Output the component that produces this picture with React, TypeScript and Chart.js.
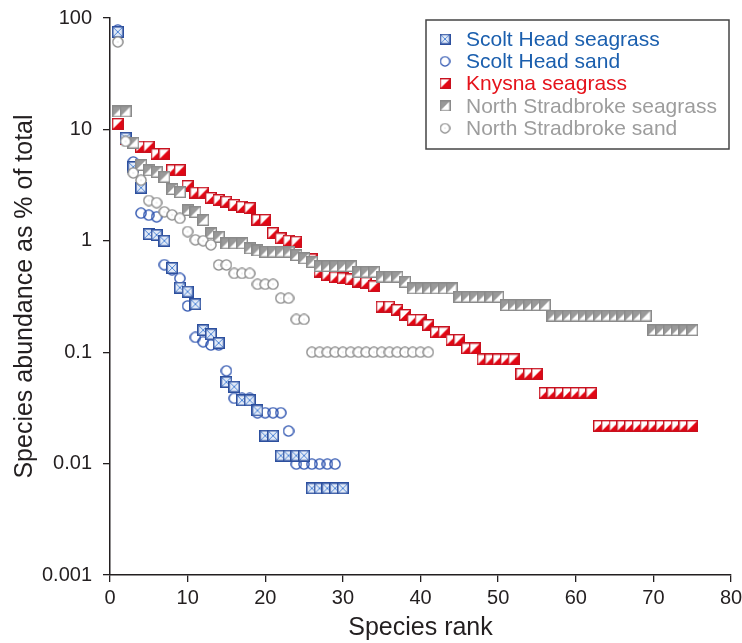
import React, { useEffect, useRef } from 'react';
import { Chart, registerables } from 'chart.js';

Chart.register(...registerables);

// Values are % of total; species rank = position in list (1, 2, 3, ...)
const scoltHeadSeagrass = [
  75, 8.4, 4.6, 3.0, 1.15, 1.13, 1.0, 0.57, 0.38, 0.35,
  0.27, 0.158, 0.145, 0.121, 0.054, 0.049, 0.037, 0.037, 0.030, 0.0178,
  0.0178, 0.0118, 0.0118, 0.0118, 0.0118, 0.006, 0.006, 0.006, 0.006, 0.006,
];
const scoltHeadSand = [
  78, 8.2, 5.1, 1.77, 1.7, 1.64, 0.61, 0.55, 0.46, 0.26,
  0.136, 0.124, 0.116, 0.116, 0.068, 0.0386, 0.0386, 0.0386, 0.0286, 0.0286,
  0.0286, 0.0286, 0.0196, 0.0099, 0.0099, 0.0099, 0.0099, 0.0099, 0.0099,
];
const knysnaSeagrass = [
  11.2, 8.2, 7.5, 7.0, 7.0, 6.0, 6.0, 4.3, 4.3, 3.1,
  2.7, 2.7, 2.42, 2.32, 2.24, 2.1, 2.02, 1.96, 1.54, 1.54,
  1.17, 1.05, 1.0, 0.98, 0.7, 0.68, 0.53, 0.49, 0.47, 0.46,
  0.45, 0.43, 0.42, 0.39, 0.256, 0.256, 0.239, 0.216, 0.195, 0.195,
  0.175, 0.151, 0.151, 0.129, 0.129, 0.108, 0.108, 0.086, 0.086, 0.086,
  0.086, 0.086, 0.064, 0.064, 0.064, 0.043, 0.043, 0.043, 0.043, 0.043,
  0.043, 0.043, 0.0218, 0.0218, 0.0218, 0.0218, 0.0218, 0.0218, 0.0218, 0.0218,
  0.0218, 0.0218, 0.0218, 0.0218, 0.0218,
];
const northStradbrokeSeagrass = [
  14.5, 14.5, 7.6, 4.8, 4.3, 4.17, 3.76, 2.92, 2.74, 1.89,
  1.82, 1.54, 1.17, 1.09, 0.95, 0.95, 0.95, 0.857, 0.82, 0.80,
  0.80, 0.80, 0.80, 0.746, 0.697, 0.649, 0.594, 0.594, 0.594, 0.594,
  0.594, 0.528, 0.528, 0.528, 0.478, 0.478, 0.478, 0.43, 0.375, 0.375,
  0.375, 0.375, 0.375, 0.375, 0.315, 0.315, 0.315, 0.315, 0.315, 0.315,
  0.265, 0.265, 0.265, 0.265, 0.265, 0.265, 0.213, 0.213, 0.213, 0.213,
  0.213, 0.213, 0.213, 0.213, 0.213, 0.213, 0.213, 0.213, 0.213, 0.158,
  0.158, 0.158, 0.158, 0.158, 0.158,
];
const northStradbrokeSand = [
  61, 7.8, 4.07, 3.5, 2.3, 2.2, 1.82, 1.71, 1.59, 1.21,
  1.02, 1.0, 0.92, 0.607, 0.607, 0.51, 0.51, 0.51, 0.407, 0.407,
  0.407, 0.305, 0.305, 0.197, 0.197, 0.1, 0.1, 0.1, 0.1, 0.1,
  0.1, 0.1, 0.1, 0.1, 0.1, 0.1, 0.1, 0.1, 0.1, 0.1,
  0.1,
];

const seriesNames = [
  'Scolt Head seagrass',
  'Scolt Head sand',
  'Knysna seagrass',
  'North Stradbroke seagrass',
  'North Stradbroke sand',
];
const xTickValues = [0, 10, 20, 30, 40, 50, 60, 70, 80];
const yTickValues = [0.001, 0.01, 0.1, 1, 10, 100];
const yTickLabels = ['0.001', '0.01', '0.1', '1', '10', '100'];

const BLUE_TEXT = '#1b5fae';
const RED_TEXT = '#e5131b';
const GREY_TEXT = '#9d9d9d';
const AXIS = '#231f20';
const SANS = "'Liberation Sans', Arial, Helvetica, sans-serif";

const toPoints = (vals: number[]) => vals.map((v, i) => ({ x: i + 1, y: v }));

function makeMarker(size: number, draw: (ctx: CanvasRenderingContext2D, s: number) => void) {
  const c = document.createElement('canvas');
  c.width = size;
  c.height = size;
  const ctx = c.getContext('2d')!;
  draw(ctx, size);
  return c;
}

function buildMarkers() {
  const S = 12;
  const scoltSq = makeMarker(S, (ctx, s) => {
    ctx.fillStyle = '#e2eaf7';
    ctx.fillRect(0, 0, s, s);
    ctx.strokeStyle = '#4f86d6';
    ctx.lineWidth = 1;
    ctx.beginPath();
    ctx.moveTo(2, 2); ctx.lineTo(s - 2, s - 2);
    ctx.moveTo(s - 2, 2); ctx.lineTo(2, s - 2);
    ctx.stroke();
    ctx.strokeStyle = '#2c4f9e';
    ctx.lineWidth = 1.6;
    ctx.strokeRect(0.8, 0.8, s - 1.6, s - 1.6);
  });
  const scoltCircle = makeMarker(S, (ctx, s) => {
    ctx.strokeStyle = '#2f55b0';
    ctx.lineWidth = 1.4;
    ctx.beginPath();
    ctx.arc(s / 2, s / 2, s / 2 - 0.9, 0, Math.PI * 2);
    ctx.stroke();
  });
  const knysnaSq = makeMarker(S, (ctx, s) => {
    ctx.fillStyle = '#ffffff';
    ctx.fillRect(0, 0, s, s);
    ctx.fillStyle = '#e30613';
    ctx.beginPath();
    ctx.moveTo(s, 0); ctx.lineTo(s, s); ctx.lineTo(0, s); ctx.closePath();
    ctx.fill();
    ctx.strokeStyle = '#c8101e';
    ctx.lineWidth = 1.4;
    ctx.strokeRect(0.7, 0.7, s - 1.4, s - 1.4);
  });
  const nsSq = makeMarker(S, (ctx, s) => {
    ctx.fillStyle = '#ffffff';
    ctx.fillRect(0, 0, s, s);
    ctx.fillStyle = '#999999';
    ctx.beginPath();
    ctx.moveTo(0, 0); ctx.lineTo(s, 0); ctx.lineTo(0, s); ctx.closePath();
    ctx.fill();
    ctx.strokeStyle = '#8a8a8a';
    ctx.lineWidth = 1.4;
    ctx.strokeRect(0.7, 0.7, s - 1.4, s - 1.4);
  });
  const nsCircle = makeMarker(S, (ctx, s) => {
    ctx.fillStyle = '#ffffff';
    ctx.strokeStyle = '#8a8a8a';
    ctx.lineWidth = 1.4;
    ctx.beginPath();
    ctx.arc(s / 2, s / 2, s / 2 - 0.9, 0, Math.PI * 2);
    ctx.fill();
    ctx.stroke();
    ctx.fillStyle = '#c8c8c8';
    ctx.fillRect(s / 2 - 0.5, s / 2 - 0.5, 1, 1);
  });
  return [scoltSq, scoltCircle, knysnaSq, nsSq, nsCircle];
}

export default function App() {
  const ref = useRef<HTMLCanvasElement | null>(null);

  useEffect(() => {
    if (!ref.current) return;
    const markers = buildMarkers();
    const series = [scoltHeadSeagrass, scoltHeadSand, knysnaSeagrass, northStradbrokeSeagrass, northStradbrokeSand];
    const drawOrder = [2, 4, 3, 1, 0];
    const textColors = [BLUE_TEXT, BLUE_TEXT, RED_TEXT, GREY_TEXT, GREY_TEXT];

    const legendPlugin = {
      id: 'boxLegend',
      afterDraw(chart: any) {
        const { ctx, chartArea } = chart;
        const w = 303;
        const h = 129;
        const left = chartArea.right - 2 - w;
        const top = chartArea.top + 2;
        ctx.save();
        ctx.fillStyle = '#ffffff';
        ctx.fillRect(left, top, w, h);
        ctx.strokeStyle = '#444444';
        ctx.lineWidth = 1.5;
        ctx.strokeRect(left, top, w, h);
        ctx.font = `21px ${SANS}`;
        ctx.textBaseline = 'middle';
        ctx.textAlign = 'left';
        seriesNames.forEach((name, i) => {
          const y = top + 19 + i * 22.3;
          const m = markers[i];
          const sz = 11;
          ctx.drawImage(m, left + 19 - sz / 2, y - sz / 2, sz, sz);
          ctx.fillStyle = textColors[i];
          ctx.fillText(name, left + 40, y + 1);
        });
        ctx.restore();
      },
    };

    const chart = new Chart(ref.current, {
      type: 'scatter',
      data: {
        datasets: series.map((vals, i) => ({
          label: seriesNames[i],
          data: toPoints(vals),
          pointStyle: markers[i] as any,
          pointRadius: 6,
          order: drawOrder[i],
        })),
      },
      options: {
        responsive: false,
        animation: false,
        devicePixelRatio: 1,
        layout: { padding: { top: 18, right: 11, left: 0, bottom: 0 } },
        plugins: {
          legend: { display: false },
          tooltip: { enabled: false },
        },
        scales: {
          x: {
            type: 'linear',
            min: 0,
            max: 80,
            afterBuildTicks: (s: any) => {
              s.ticks = xTickValues.map((v) => ({ value: v }));
            },
            ticks: {
              font: { family: SANS, size: 20 },
              color: AXIS,
              padding: 4,
              maxRotation: 0,
            },
            grid: {
              display: true,
              drawOnChartArea: false,
              drawTicks: true,
              tickLength: 7,
              color: AXIS,
              lineWidth: 1.3,
            },
            border: { display: true, color: AXIS, width: 1.5 },
            title: {
              display: true,
              text: 'Species rank',
              font: { family: SANS, size: 25 },
              color: AXIS,
              padding: { top: 0, bottom: 0 },
            },
            afterFit: (s: any) => {
              s.height = 68;
              s.paddingLeft = 0;
              s.paddingRight = 0;
            },
          },
          y: {
            type: 'logarithmic',
            min: 0.001,
            max: 100,
            afterBuildTicks: (s: any) => {
              s.ticks = yTickValues.map((v) => ({ value: v, major: true }));
            },
            ticks: {
              font: { family: SANS, size: 20 },
              color: AXIS,
              padding: 11,
              callback: (_v: any, idx: number) => yTickLabels[idx],
            },
            grid: {
              display: true,
              drawOnChartArea: false,
              drawTicks: true,
              tickLength: 7,
              color: AXIS,
              lineWidth: 1.3,
            },
            border: { display: true, color: AXIS, width: 1.5 },
            title: {
              display: true,
              text: 'Species abundance as % of total',
              font: { family: SANS, size: 25 },
              color: AXIS,
              padding: { top: 10, bottom: 0 },
            },
            afterFit: (s: any) => {
              s.width = 110;
              s.paddingTop = 0;
              s.paddingBottom = 0;
            },
          },
        },
      },
      plugins: [legendPlugin],
    } as any);

    return () => chart.destroy();
  }, []);

  return (
    <div style={{ position: 'absolute', left: 0, top: 0, width: 742, height: 643, background: '#fff' }}>
      <canvas ref={ref} width={742} height={643} style={{ display: 'block' }} />
    </div>
  );
}
